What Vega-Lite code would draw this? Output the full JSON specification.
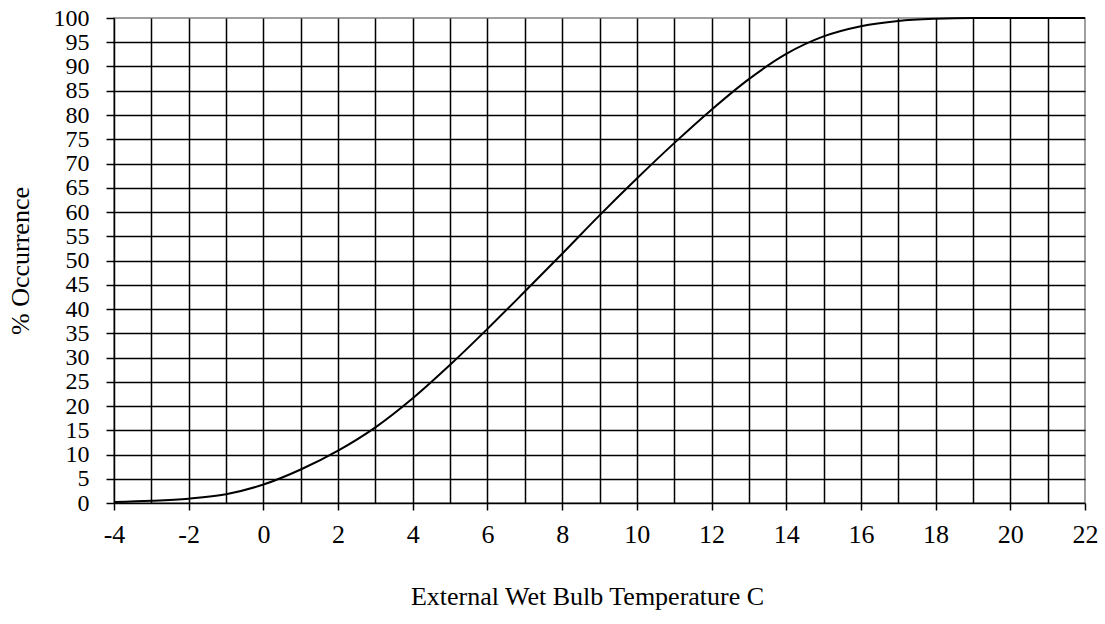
{
  "$schema": "https://vega.github.io/schema/vega-lite/v6.json",
  "autosize": {"type": "none"},
  "padding": {"left": 114, "top": 18, "right": 20, "bottom": 121},
  "width": 971,
  "height": 485,
  "background": "white",
  "config": {
    "view": {"stroke": "#808080", "strokeWidth": 1.5},
    "font": "Liberation Serif"
  },
  "data": {
    "values": [
      {"t": -4, "p": 0.2},
      {"t": -3, "p": 0.45},
      {"t": -2, "p": 0.9},
      {"t": -1, "p": 1.8},
      {"t": 0, "p": 3.8},
      {"t": 1, "p": 6.9},
      {"t": 2, "p": 10.8},
      {"t": 3, "p": 15.6},
      {"t": 4, "p": 21.6},
      {"t": 5, "p": 28.5},
      {"t": 6, "p": 35.9},
      {"t": 7, "p": 43.6},
      {"t": 8, "p": 51.4},
      {"t": 9, "p": 59.3},
      {"t": 10, "p": 66.9},
      {"t": 11, "p": 74.2},
      {"t": 12, "p": 81.1},
      {"t": 13, "p": 87.4},
      {"t": 14, "p": 92.6},
      {"t": 15, "p": 96.2},
      {"t": 16, "p": 98.3},
      {"t": 17, "p": 99.4},
      {"t": 18, "p": 99.85},
      {"t": 19, "p": 100},
      {"t": 20, "p": 100},
      {"t": 21, "p": 100},
      {"t": 22, "p": 100}
    ]
  },
  "mark": {"type": "line", "color": "black", "strokeWidth": 2, "interpolate": "monotone"},
  "encoding": {
    "x": {
      "field": "t",
      "type": "quantitative",
      "scale": {"domain": [-4, 22], "nice": false, "zero": false},
      "axis": {
        "title": "External Wet Bulb Temperature C",
        "values": [-4,-3,-2,-1,0,1,2,3,4,5,6,7,8,9,10,11,12,13,14,15,16,17,18,19,20,21,22],
        "labelExpr": "datum.value % 2 === 0 ? toString(datum.value) : ''",
        "labelOverlap": false,
        "labelFlush": false,
        "tickOpacity": {"condition": {"test": "datum.value % 2 !== 0", "value": 0}, "value": 1},
        "gridOpacity": {"condition": {"test": "datum.value === 22 || datum.value === -4", "value": 0}, "value": 1},
        "grid": true,
        "gridColor": "black",
        "gridWidth": 1.5,
        "domainColor": "black",
        "domainWidth": 1.5,
        "tickColor": "black",
        "tickWidth": 1.5,
        "tickSize": 7,
        "labelFont": "Liberation Serif",
        "labelFontSize": 26,
        "labelColor": "black",
        "labelPadding": 11,
        "titleFont": "Liberation Serif",
        "titleFontSize": 26,
        "titleFontWeight": "normal",
        "titleColor": "black",
        "titlePadding": 36,
        "titleX": 473
      }
    },
    "y": {
      "field": "p",
      "type": "quantitative",
      "scale": {"domain": [0, 100], "nice": false},
      "axis": {
        "title": "% Occurrence",
        "values": [0,5,10,15,20,25,30,35,40,45,50,55,60,65,70,75,80,85,90,95,100],
        "labelOverlap": false,
        "labelFlush": false,
        "grid": true,
        "gridOpacity": {"condition": {"test": "datum.value === 100 || datum.value === 0", "value": 0}, "value": 1},
        "gridColor": "black",
        "gridWidth": 1.5,
        "domainColor": "black",
        "domainWidth": 1.5,
        "tickColor": "black",
        "tickWidth": 1.5,
        "tickSize": 8,
        "labelFont": "Liberation Serif",
        "labelFontSize": 24,
        "labelColor": "black",
        "labelPadding": 17,
        "titleFont": "Liberation Serif",
        "titleFontSize": 26,
        "titleFontWeight": "normal",
        "titleColor": "black",
        "titlePadding": 20
      }
    }
  }
}
